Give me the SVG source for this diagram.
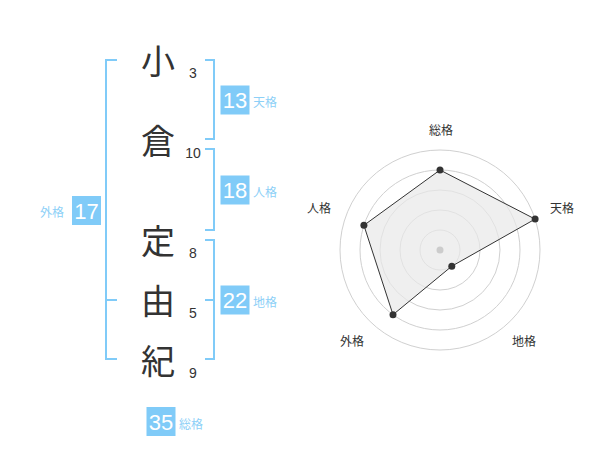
<svg xmlns="http://www.w3.org/2000/svg" width="600" height="470" viewBox="0 0 600 470">
<style>
.ch{font-family:"Noto Sans CJK JP","Noto Sans",sans-serif;font-size:34px;fill:#333;text-anchor:middle}
.num{font-family:"Liberation Sans",Arial,sans-serif;font-size:14px;fill:#333;text-anchor:middle}
.br{fill:none;stroke:#80cbf8;stroke-width:2}
.box{fill:#80cbf8}
.bn{font-family:"Liberation Sans",Arial,sans-serif;font-size:22px;fill:#fff;text-anchor:middle}
.bl{font-family:"Noto Sans CJK JP","Noto Sans",sans-serif;font-size:12px;fill:#8dd0f7}
.ring{fill:none;stroke:#d0d0d0;stroke-width:1}
.ax{font-family:"Noto Sans CJK JP","Noto Sans",sans-serif;font-size:12px;fill:#333;text-anchor:middle}
.pt{fill:#333}
</style>
<rect width="600" height="470" fill="#fff"/>
<g id="name">
<g id="c1"><text class="ch" x="158" y="74">小</text><text class="num" x="193" y="78">3</text></g>
<g id="c2"><text class="ch" x="158" y="154">倉</text><text class="num" x="193" y="158">10</text></g>
<g id="c3"><text class="ch" x="158" y="254">定</text><text class="num" x="193" y="258">8</text></g>
<g id="c4"><text class="ch" x="158" y="314">由</text><text class="num" x="193" y="318">5</text></g>
<g id="c5"><text class="ch" x="158" y="374">紀</text><text class="num" x="193" y="378">9</text></g>
</g>
<g id="connectors">
<path class="br" d="M117,60 H106 V359 H117 M106,300 H117"/>
<path class="br" d="M205,60 H214 V139 H205"/>
<path class="br" d="M205,149 H214 V230 H205"/>
<path class="br" d="M205,240 H214 V359 H205 M205,300 H214"/>
</g>
<g id="tenkaku"><rect class="box" x="220.5" y="85.5" width="29" height="29"/><text class="bn" x="235" y="108">13</text><text class="bl" x="253" y="107">天格</text></g>
<g id="jinkaku"><rect class="box" x="220.5" y="175.5" width="29" height="29"/><text class="bn" x="235" y="198">18</text><text class="bl" x="253" y="197">人格</text></g>
<g id="chikaku"><rect class="box" x="220.5" y="285.5" width="29" height="29"/><text class="bn" x="235" y="308">22</text><text class="bl" x="253" y="307">地格</text></g>
<g id="gaikaku"><rect class="box" x="72" y="196" width="29" height="29"/><text class="bn" x="86.5" y="218.5">17</text><text class="bl" x="40" y="217">外格</text></g>
<g id="soukaku"><rect class="box" x="146.5" y="407" width="29" height="29"/><text class="bn" x="161" y="429.5">35</text><text class="bl" x="179" y="429">総格</text></g>
<g id="radar">
<circle class="ring" cx="440" cy="250" r="20"/>
<circle class="ring" cx="440" cy="250" r="40"/>
<circle class="ring" cx="440" cy="250" r="60"/>
<circle class="ring" cx="440" cy="250" r="80"/>
<circle class="ring" cx="440" cy="250" r="100"/>
<polygon points="440,170 535.1,219.1 451.8,266.2 393,314.7 363.9,225.3" fill="#e8e8e8" fill-opacity="0.7" stroke="#333" stroke-width="1"/>
<circle cx="440" cy="250" r="3.5" fill="#ccc"/>
<circle class="pt" cx="440" cy="170" r="3.5"/>
<circle class="pt" cx="535.1" cy="219.1" r="3.5"/>
<circle class="pt" cx="451.8" cy="266.2" r="3.5"/>
<circle class="pt" cx="393" cy="314.7" r="3.5"/>
<circle class="pt" cx="363.9" cy="225.3" r="3.5"/>
<text class="ax" x="441" y="135">総格</text>
<text class="ax" x="562" y="213">天格</text>
<text class="ax" x="524" y="346">地格</text>
<text class="ax" x="352" y="346">外格</text>
<text class="ax" x="319" y="213">人格</text>
</g>
</svg>
